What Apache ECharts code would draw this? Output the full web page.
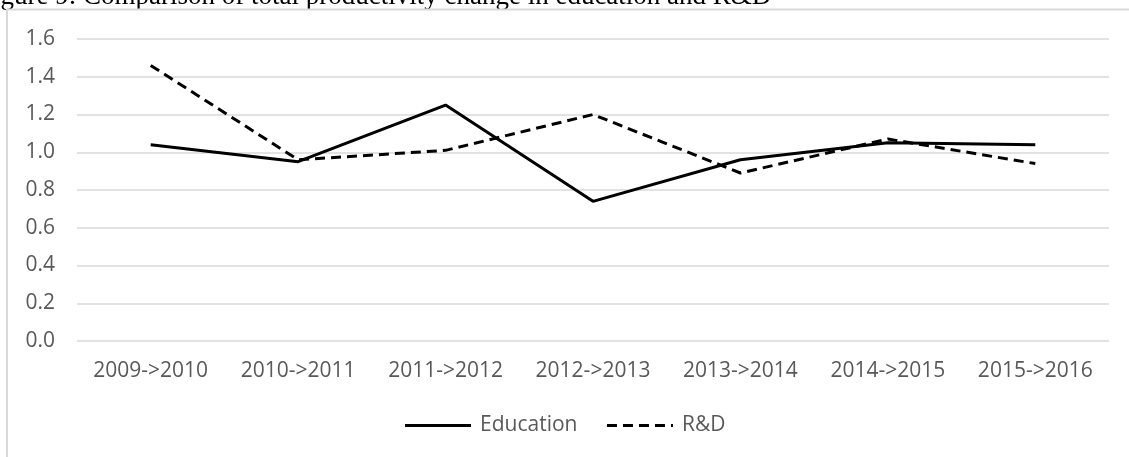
<!DOCTYPE html>
<html>
<head>
<meta charset="utf-8">
<script src="https://cdn.jsdelivr.net/npm/echarts@6/dist/echarts.min.js"></script>
<style>
    html, body { margin: 0; padding: 0; background: #fff; }
    #chart { width: 1129px; height: 457px; }
</style>
</head>
<body>
<div id="chart"></div>
<script>
// 类目与数据
var categories = ['2009->2010', '2010->2011', '2011->2012', '2012->2013', '2013->2014', '2014->2015', '2015->2016'];
var education = [1.04, 0.95, 1.25, 0.74, 0.96, 1.05, 1.04];
var rnd = [1.46, 0.96, 1.01, 1.20, 0.89, 1.07, 0.94];
var seriesNames = ['Education', 'R&D'];
var figureTitle = 'Figure 9: Comparison of total productivity change in education and R&D';

var labelColor = '#595959';
var gridColor = '#d9d9d9';
var labelFont = 'Open Sans';

var option = {
    animation: false,
    backgroundColor: '#fff',
    graphic: [
        {
            type: 'text',
            x: -22,
            y: 10,
            z: 10,
            style: {
                text: figureTitle,
                fontFamily: 'Liberation Serif',
                fontSize: 27,
                fill: '#000',
                verticalAlign: 'bottom'
            }
        },
        {
            type: 'rect',
            shape: { x: 7, y: 9.5, width: 1200, height: 500 },
            style: { fill: 'none', stroke: gridColor, lineWidth: 2 },
            z: 11
        }
    ],
    grid: {
        left: 77,
        right: 20,
        top: 39,
        bottom: 116
    },
    legend: {
        data: seriesNames,
        bottom: 16,
        left: 'center',
        itemWidth: 66,
        itemHeight: 14,
        itemGap: 28,
        itemStyle: { opacity: 0 },
        lineStyle: { width: 3, color: '#000' },
        textStyle: {
            color: labelColor,
            fontFamily: labelFont,
            fontSize: 21,
            padding: [0, 0, 0, 4]
        }
    },
    xAxis: {
        type: 'category',
        data: categories,
        boundaryGap: true,
        axisLine: { show: false },
        axisTick: { show: false },
        axisLabel: {
            color: labelColor,
            fontFamily: labelFont,
            fontSize: 21,
            margin: 20,
            interval: 0
        }
    },
    yAxis: {
        type: 'value',
        min: 0,
        max: 1.6,
        interval: 0.2,
        axisLine: { show: false },
        axisTick: { show: false },
        splitLine: { lineStyle: { color: gridColor, width: 1.5 } },
        axisLabel: {
            color: labelColor,
            fontFamily: labelFont,
            fontSize: 21,
            margin: 22,
            formatter: function (v) { return v.toFixed(1); }
        }
    },
    series: [
        {
            name: seriesNames[0],
            type: 'line',
            data: education,
            symbol: 'none',
            lineStyle: { color: '#000', width: 3 },
            itemStyle: { color: '#000' }
        },
        {
            name: seriesNames[1],
            type: 'line',
            data: rnd,
            symbol: 'none',
            lineStyle: { color: '#000', width: 3, type: [10, 6] },
            itemStyle: { color: '#000' }
        }
    ]
};

var dom_chart = echarts.init(document.getElementById('chart'));
dom_chart.setOption(option);
</script>
</body>
</html>
